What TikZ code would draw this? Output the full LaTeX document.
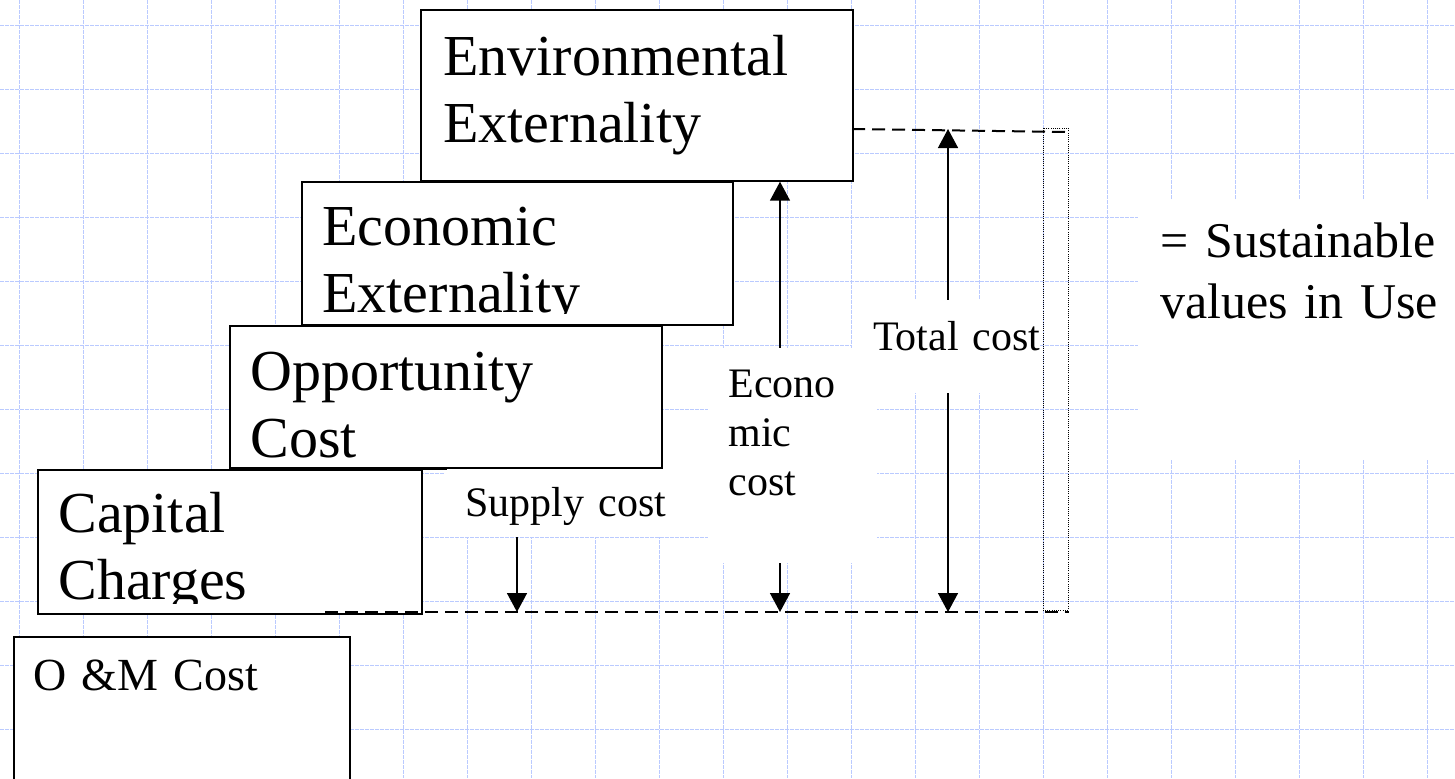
\documentclass[tikz,border=0pt]{standalone}
\usepackage{fontspec}
\setmainfont{Liberation Serif}
\usepackage{tikz}
\usetikzlibrary{arrows.meta,positioning}
\usepackage{xcolor}
\definecolor{gridblue}{RGB}{186,202,255}
\definecolor{ink}{RGB}{0,0,0}
\tikzset{
  gridline/.style={draw=gridblue,line width=0.5pt,dash pattern=on 2pt off 0.5pt},
  blk/.style={draw=ink,line width=0.85pt,fill=white,inner sep=0pt,anchor=north west},
  blktext/.style={font=\fontsize{29}{33.5}\selectfont,text width=200pt,align=left,inner sep=0pt,anchor=base west},
  tag/.style={fill=white,inner ysep=0pt,anchor=base west,font=\fontsize{21}{24.5}\selectfont},
  guide/.style={draw=ink,line width=1pt,dash pattern=on 6.5pt off 3.5pt},
  fence/.style={draw=ink,line width=0.5pt,dash pattern=on 0.5pt off 0.6pt},
  flow/.style={-{Triangle[length=9.5pt,width=10pt]},line width=0.75pt,draw=ink}
}
\begin{document}
\begin{tikzpicture}[x=0.5pt,y=-0.5pt]
\fill[white] (0,0) rectangle (1455,778);
\useasboundingbox (0,0) rectangle (1455,778);
% background grid
\foreach \gx in {19,83,...,1427} \draw[gridline] (\gx,0) -- (\gx,778);
\foreach \gy in {25,89,...,729} \draw[gridline] (0,\gy) -- (1455,\gy);

% cost labels
\node[tag,inner xsep=10pt,text width=111.5pt,align=left,text height=23.5pt,text depth=10.5pt] (supply) at (445,516) {Supply cost};
\node[tag,inner xsep=10pt,text width=64.5pt,align=left,text height=24.5pt,text depth=83pt] (econ) at (708,397) {Econo\\mic\\cost};
\node[tag,inner xsep=0pt,text width=94pt,align=right,text height=25pt,text depth=21.5pt] (total) at (852,350) {Total cost};
\node[tag,font=\fontsize{25}{30.5}\selectfont,inner xsep=11pt,text width=150pt,align=left,text height=28.5pt,text depth=101.5pt] (sust) at (1138,257) {= Sustainable\\values in Use};

% cost blocks, stepping down to the left
\node[blk,minimum width=216pt,minimum height=85.5pt] (env) at (420,9) {};
\node[blk,minimum width=215.5pt,minimum height=71.5pt] (ecoext) at (301,181) {};
\node[blk,minimum width=216pt,minimum height=71pt] (opp) at (229,325) {};
\node[blk,minimum width=192pt,minimum height=72pt] (cap) at (37,469) {};
\node[blk,minimum width=168pt,minimum height=80pt] (om) at (13,636) {};
\draw[draw=ink,line width=0.85pt] (cap.north east) -- ++(24,0);

\node[blktext] (env-t) at (443,75) {Environmental\\Externality};
\begin{scope}
\clip (ecoext.north west) rectangle ([yshift=6pt]ecoext.south east);
\node[blktext] (ecoext-t) at (322,245) {Economic\\Externality};
\end{scope}
\node[blktext] (opp-t) at (250,390) {Opportunity\\Cost};
\begin{scope}
\clip (cap.north west) rectangle ([yshift=5.5pt]cap.south east);
\node[blktext] (cap-t) at (58,532) {Capital\\Charges};
\end{scope}
\node[blktext,font=\fontsize{23}{27}\selectfont] (om-t) at (33,690) {O \&M Cost};

% reference levels
\coordinate (topL) at (852,129);
\coordinate (topR) at (1069,132);
\coordinate (baseL) at (325,612);
\coordinate (baseR) at (1069,612);
\coordinate (sup) at (517,612);
\coordinate (ecox) at (780,612);
\coordinate (totx) at (948,612);

\draw[guide] (topL) -- (topR);
\draw[guide] (baseL) -- (baseR);
\draw[fence] (1043,128) rectangle (1068,610);

\draw[flow] (supply.south -| sup) -- (sup);
\draw[flow] (econ.north -| ecox) -- (ecox |- env.south);
\draw[flow] (econ.south -| ecox) -- (ecox);
\draw[flow] (total.north -| totx) -- (totx |- topL);
\draw[flow] (total.south -| totx) -- (totx);
\end{tikzpicture}
\end{document}
